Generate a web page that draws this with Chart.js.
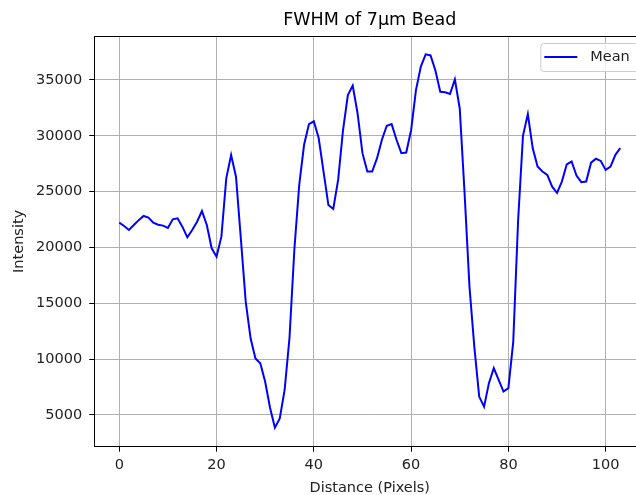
<!DOCTYPE html>
<html>
<head>
<meta charset="utf-8">
<title>FWHM of 7µm Bead</title>
<script src="https://cdn.jsdelivr.net/npm/chart.js@4.4.0/dist/chart.umd.min.js"></script>
<style>
  html, body { margin: 0; padding: 0; background: #fff; overflow: hidden; }
  #wrap { width: 648px; height: 495px; }
</style>
</head>
<body>
<div id="wrap"><canvas id="fwhmChart" width="648" height="495"></canvas></div>
<script>
// line profile across the bead, one sample per pixel
const distance = [
  0, 1, 2, 3, 4, 5, 6, 7, 8, 9, 10, 11, 12, 13, 14, 15, 16, 17, 18, 19,
  20, 21, 22, 23, 24, 25, 26, 27, 28, 29, 30, 31, 32, 33, 34, 35, 36, 37, 38, 39,
  40, 41, 42, 43, 44, 45, 46, 47, 48, 49, 50, 51, 52, 53, 54, 55, 56, 57, 58, 59,
  60, 61, 62, 63, 64, 65, 66, 67, 68, 69, 70, 71, 72, 73, 74, 75, 76, 77, 78, 79,
  80, 81, 82, 83, 84, 85, 86, 87, 88, 89, 90, 91, 92, 93, 94, 95, 96, 97, 98, 99,
  100, 101, 102, 103,
];
const meanIntensity = [
  22220, 21930, 21570, 22010, 22450, 22820, 22670, 22220, 22040, 21960,
  21750, 22520, 22610, 21840, 20910, 21570, 22310, 23270, 22010, 19930,
  19180, 20970, 26190, 28280, 26340, 20800, 15150, 11870, 10070, 9630,
  7980, 5650, 3860, 4700, 7240, 11900, 19800, 25600, 29200, 31050,
  31300, 29800, 26800, 23800, 23450, 26050, 30500, 33650, 34500, 32000,
  28450, 26800, 26800, 28000, 29650, 30900, 31050, 29650, 28450, 28500,
  30500, 34100, 36200, 37300, 37200, 35850, 33950, 33900, 33750, 35050,
  32450, 24850, 16500, 11100, 6650, 5750, 7850, 9200, 8150, 7100,
  7400, 11550, 22400, 30000, 31950, 28900, 27250, 26800, 26500, 25450,
  24900, 25900, 27450, 27700, 26450, 25850, 25900, 27600, 27950, 27750,
  26950, 27250, 28300, 28900,
];
const xTicks = [0, 20, 40, 60, 80, 100];
const yTicks = [5000, 10000, 15000, 20000, 25000, 30000, 35000];

const FONT = "'DejaVu Sans', sans-serif";
const tickFont = { family: FONT, size: 14.5 };

// top/right spines and the boxed legend in the upper right corner
const framePlugin = {
  id: "frame",
  afterDatasetsDraw(chart) {
    const { ctx, chartArea: a } = chart;
    ctx.save();
    ctx.strokeStyle = "#000";
    ctx.lineWidth = 1;
    ctx.beginPath();
    ctx.moveTo(Math.round(a.left), Math.round(a.top) + 0.5);
    ctx.lineTo(Math.round(a.right), Math.round(a.top) + 0.5);
    ctx.lineTo(Math.round(a.right) + 0.5, Math.round(a.bottom));
    ctx.stroke();

    const ds = chart.data.datasets[0];
    const w = 98, h = 28;
    const x = a.right - 7 - w, y = a.top + 7;
    ctx.beginPath();
    ctx.roundRect(x + 0.5, y + 0.5, w, h, 3);
    ctx.fillStyle = "rgba(255,255,255,0.8)";
    ctx.fill();
    ctx.strokeStyle = "#cccccc";
    ctx.stroke();

    const cy = y + h / 2;
    ctx.beginPath();
    ctx.moveTo(x + 4, cy);
    ctx.lineTo(x + 37, cy);
    ctx.strokeStyle = ds.borderColor;
    ctx.lineWidth = ds.borderWidth;
    ctx.stroke();

    ctx.fillStyle = "#222";
    ctx.font = `14.5px ${FONT}`;
    ctx.textBaseline = "middle";
    ctx.textAlign = "left";
    ctx.fillText(ds.label, x + 50, cy + 0.5);
    ctx.restore();
  },
};

new Chart(document.getElementById("fwhmChart"), {
  type: "line",
  data: {
    datasets: [{
      label: "Mean",
      data: distance.map((d, i) => ({ x: d, y: meanIntensity[i] })),
      borderColor: "#0000ff",
      borderWidth: 2,
      pointRadius: 0,
      tension: 0,
      fill: false,
    }],
  },
  options: {
    responsive: false,
    animation: false,
    events: [],
    layout: { padding: { left: 0, right: 2.7, top: 0, bottom: 0 } },
    plugins: {
      legend: { display: false },
      tooltip: { enabled: false },
      title: {
        display: true,
        fullSize: false,
        text: "FWHM of 7µm Bead",
        color: "#000",
        font: { family: FONT, size: 17.5, weight: "normal" },
        padding: { top: 10, bottom: 5 },
      },
    },
    scales: {
      x: {
        type: "linear",
        min: -5.15,
        max: 108.15,
        afterBuildTicks: (s) => { s.ticks = xTicks.map((v) => ({ value: v })); },
        afterFit: (s) => { s.height = 48.3; },
        ticks: { color: "#222", font: tickFont, padding: 5, maxRotation: 0 },
        grid: { color: "#b0b0b0", lineWidth: 1, tickLength: 5, tickColor: "#000" },
        border: { color: "#000", width: 1 },
        title: { display: true, text: "Distance (Pixels)", color: "#222", font: tickFont, padding: { top: 0, bottom: -2 } },
      },
      y: {
        min: 2160,
        max: 38940,
        afterBuildTicks: (s) => { s.ticks = yTicks.map((v) => ({ value: v })); },
        afterFit: (s) => { s.width = 94.2; },
        ticks: { color: "#222", font: tickFont, padding: 7, callback: (v) => String(v) },
        grid: { color: "#b0b0b0", lineWidth: 1, tickLength: 5, tickColor: "#000" },
        border: { color: "#000", width: 1 },
        title: { display: true, text: "Intensity", color: "#222", font: tickFont, padding: { top: 11, bottom: 0 } },
      },
    },
  },
  plugins: [framePlugin],
});
</script>
</body>
</html>
